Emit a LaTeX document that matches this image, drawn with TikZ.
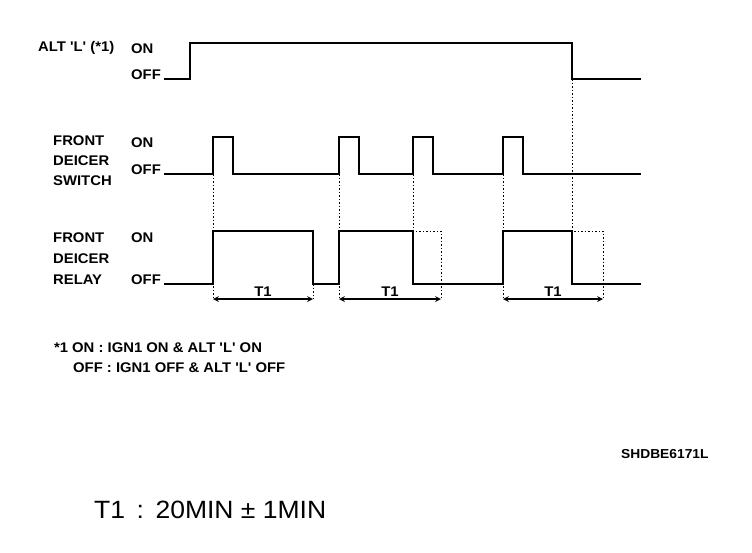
\documentclass[tikz,border=0pt]{standalone}
\usepackage{fontspec}
\setmainfont{Liberation Sans}
\newfontfamily\chartfont{Liberation Sans}[FakeStretch=1.06]
\usetikzlibrary{arrows}
\tikzset{
  wave/.style={line width=2.6pt,line join=miter},
  guide/.style={line width=1pt,dash pattern=on 1.5pt off 2pt},
  tspan/.style={>=stealth,line width=1.6pt,<->},
  chart/.style={inner sep=0pt,font=\chartfont\bfseries\fontsize{14}{20}\selectfont},
  lvltext/.style={chart,anchor=base west},
  signame/.style={chart,align=left,anchor=west},
  spanlabel/.style={chart,above,inner sep=1.5pt},
  footnote/.style={chart,anchor=west},
}

\begin{document}
\begin{tikzpicture}[x=1pt,y=-1pt]
    \useasboundingbox (0,0) rectangle (752,552);

    % Signal names
    \node[signame] (alt)    at (38,48)  {ALT 'L' (*1)};
    \node[signame] (switch) at (53,161) {FRONT\\DEICER\\SWITCH};
    \node[signame,font=\chartfont\bfseries\fontsize{14}{21}\selectfont]
                   (relay)  at (53,259) {FRONT\\DEICER\\RELAY};

    % Levels
    \node[lvltext] (alton) at (131,53)  {ON};
    \node[lvltext] (altoff) at (131,79) {OFF};
    \node[lvltext] (swon)  at (131,147) {ON};
    \node[lvltext] (swoff) at (131,174) {OFF};
    \node[lvltext] (rlon)  at (131,242) {ON};
    \node[lvltext] (rloff) at (131,284) {OFF};

    % Guides
    \draw[guide] (213,174) -- (213,299);
    \draw[guide] (313,284) -- (313,299);
    \draw[guide] (339,174) -- (339,299);
    \draw[guide] (413,174) -- (413,231) -- (441,231) -- (441,299);
    \draw[guide] (503,174) -- (503,299);
    \draw[guide] (572,79) -- (572,231) -- (603,231) -- (603,299);

    % Waveforms
    \draw[wave] ([xshift=3pt]altoff.base east) -- (190,79) -- (190,43)
        -- (572,43) -- (572,79) -- (641,79);
    \draw[wave] ([xshift=3pt]swoff.base east)
        -- (213,174) -- (213,137) -- (233,137) -- (233,174)
        -- (339,174) -- (339,137) -- (359,137) -- (359,174)
        -- (413,174) -- (413,137) -- (433,137) -- (433,174)
        -- (503,174) -- (503,137) -- (523,137) -- (523,174)
        -- (641,174);
    \draw[wave] ([xshift=3pt]rloff.base east)
        -- (213,284) -- (213,231) -- (313,231) -- (313,284)
        -- (339,284) -- (339,231) -- (413,231) -- (413,284)
        -- (503,284) -- (503,231) -- (572,231) -- (572,284)
        -- (641,284);

    % T1 spans
    \foreach \a/\b in {213/313,339/441,503/603}
        \draw[tspan] (\a,299) -- node[spanlabel] (t1-\a) {T1} (\b,299);

    % Notes
    \node[footnote] (star)  at (54,348) {*1};
    \node[footnote] (noteon) at (72,348) {ON : IGN1 ON \& ALT 'L' ON};
    \node[footnote] (noteoff) at (73,368) {OFF : IGN1 OFF \& ALT 'L' OFF};
    \node[footnote,font=\chartfont\bfseries\fontsize{13}{15}\selectfont]
        (code) at (621,454) {SHDBE6171L};
    \node[footnote,font=\chartfont\fontsize{25}{28}\selectfont]
        (t1def) at (94,510) {T1\ \,:\ \,20MIN ± 1MIN};
\end{tikzpicture}
\end{document}
